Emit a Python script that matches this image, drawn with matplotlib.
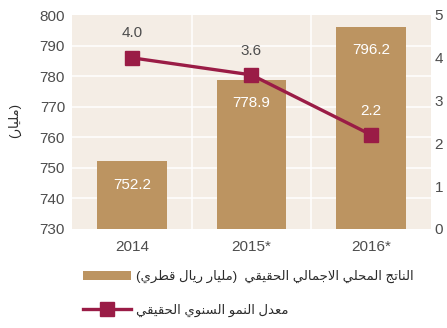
import matplotlib
matplotlib.use("Agg")
import matplotlib.pyplot as plt
from matplotlib.patches import Patch
from matplotlib.lines import Line2D

# ---- data ----
years = ["2014", "2015*", "2016*"]
gdp_values = [752.2, 778.9, 796.2]          # real GDP, billion QAR
growth_values = [4.0, 3.6, 2.2]             # real annual growth, %
gdp_ticks = [730, 740, 750, 760, 770, 780, 790, 800]
growth_ticks = [0, 1, 2, 3, 4, 5]

gdp_label = "الناتج المحلي الاجمالي الحقيقي  (مليار ريال قطري)"
growth_label = "معدل النمو السنوي الحقيقي"
y_label = "(مليار)"

# ---- minimal Arabic shaping (contextual forms + RTL order) ----
FORMS = {
    'ا': (0xFE8D, 0xFE8E, None, None),
    'ت': (0xFE95, 0xFE96, 0xFE97, 0xFE98),
    'ج': (0xFE9D, 0xFE9E, 0xFE9F, 0xFEA0),
    'ح': (0xFEA1, 0xFEA2, 0xFEA3, 0xFEA4),
    'د': (0xFEA9, 0xFEAA, None, None),
    'ر': (0xFEAD, 0xFEAE, None, None),
    'س': (0xFEB1, 0xFEB2, 0xFEB3, 0xFEB4),
    'ط': (0xFEC1, 0xFEC2, 0xFEC3, 0xFEC4),
    'ع': (0xFEC9, 0xFECA, 0xFECB, 0xFECC),
    'ق': (0xFED5, 0xFED6, 0xFED7, 0xFED8),
    'ل': (0xFEDD, 0xFEDE, 0xFEDF, 0xFEE0),
    'م': (0xFEE1, 0xFEE2, 0xFEE3, 0xFEE4),
    'ن': (0xFEE5, 0xFEE6, 0xFEE7, 0xFEE8),
    'و': (0xFEED, 0xFEEE, None, None),
    'ي': (0xFEF1, 0xFEF2, 0xFEF3, 0xFEF4),
}
MIRROR = {'(': ')', ')': '('}


def dual(c):
    return c in FORMS and FORMS[c][2] is not None


def shape(text):
    chars = list(text)
    out = []
    i = 0
    n = len(chars)
    while i < n:
        c = chars[i]
        if c not in FORMS:
            out.append(c)
            i += 1
            continue
        prev = chars[i - 1] if i > 0 else None
        joins_prev = prev is not None and dual(prev)
        # lam + alef ligature
        if c == 'ل' and i + 1 < n and chars[i + 1] == 'ا':
            out.append(chr(0xFEFC if joins_prev else 0xFEFB))
            i += 2
            continue
        nxt = chars[i + 1] if i + 1 < n else None
        joins_next = dual(c) and nxt is not None and nxt in FORMS
        iso, fin, ini, med = FORMS[c]
        if joins_prev and joins_next:
            g = med
        elif joins_prev:
            g = fin
        elif joins_next:
            g = ini
        else:
            g = iso
        out.append(chr(g))
        i += 1
    return "".join(MIRROR.get(ch, ch) for ch in reversed(out))


# ---- style ----
BG = "#F4EDE5"
BAR = "#BC9461"
LINE = "#9A1C46"
TXT = "#4d4d4d"
DARK = "#2b2b2b"
plt.rcParams['font.family'] = ['Liberation Sans', 'DejaVu Sans']

fig = plt.figure(figsize=(4.47, 3.28), dpi=100)
ax = fig.add_axes([72 / 447, 1 - 229 / 328, (431 - 72) / 447, (229 - 15) / 328])
ax.set_facecolor(BG)

x = list(range(len(years)))
ax.bar(x, gdp_values, width=0.58, color=BAR, zorder=2)
ax.set_xlim(-0.5, len(years) - 0.5)
ax.set_ylim(gdp_ticks[0], gdp_ticks[-1])
ax.set_yticks(gdp_ticks)
ax.set_xticks(x)
ax.set_xticklabels(years)
for s in ax.spines.values():
    s.set_visible(False)
ax.tick_params(length=0, labelsize=11, labelcolor=TXT, pad=5)
ax.tick_params(axis='x', pad=8)
for t in gdp_ticks[1:-1]:
    ax.axhline(t, color="white", lw=1.1, zorder=1)
for xv in [0.5, 1.5]:
    ax.axvline(xv, color="white", lw=1.1, zorder=1)

for xi, v in zip(x, gdp_values):
    ax.annotate(f"{v:.1f}", (xi, v), xytext=(0, -17), textcoords="offset points",
                ha="center", va="center", color="white", fontsize=11,
                zorder=5)

ax2 = ax.twinx()
ax2.set_ylim(growth_ticks[0], growth_ticks[-1])
ax2.set_yticks(growth_ticks)
for s in ax2.spines.values():
    s.set_visible(False)
ax2.tick_params(length=0, labelsize=11, labelcolor=TXT, pad=2.5)
ax2.plot(x, growth_values, color=LINE, lw=2.4, marker="s", markersize=10,
         zorder=4)
for xi, v, c in zip(x, growth_values, [TXT, TXT, "white"]):
    ax2.annotate(f"{v:.1f}", (xi, v), xytext=(0, 17.5), textcoords="offset points",
                 ha="center", va="center", color=c, fontsize=11, zorder=5)

fig.text(15 / 447, 1 - 120 / 328, shape(y_label), rotation=90, ha="center",
         va="center", fontsize=9.5, color=DARK)

handles = [
    Patch(facecolor=BAR, edgecolor="none"),
    Line2D([0], [0], color=LINE, lw=2.4, marker="s", markersize=10),
]
fig.legend(handles, [shape(gdp_label), shape(growth_label)],
           loc="upper left", bbox_to_anchor=(83 / 447, 1 - 270 / 328),
           frameon=False, fontsize=9.5, handlelength=3.6, handleheight=0.75,
           handletextpad=0.4, labelspacing=1.55, borderpad=0, borderaxespad=0,
           labelcolor=DARK)

fig.savefig("out.png", dpi=100)
